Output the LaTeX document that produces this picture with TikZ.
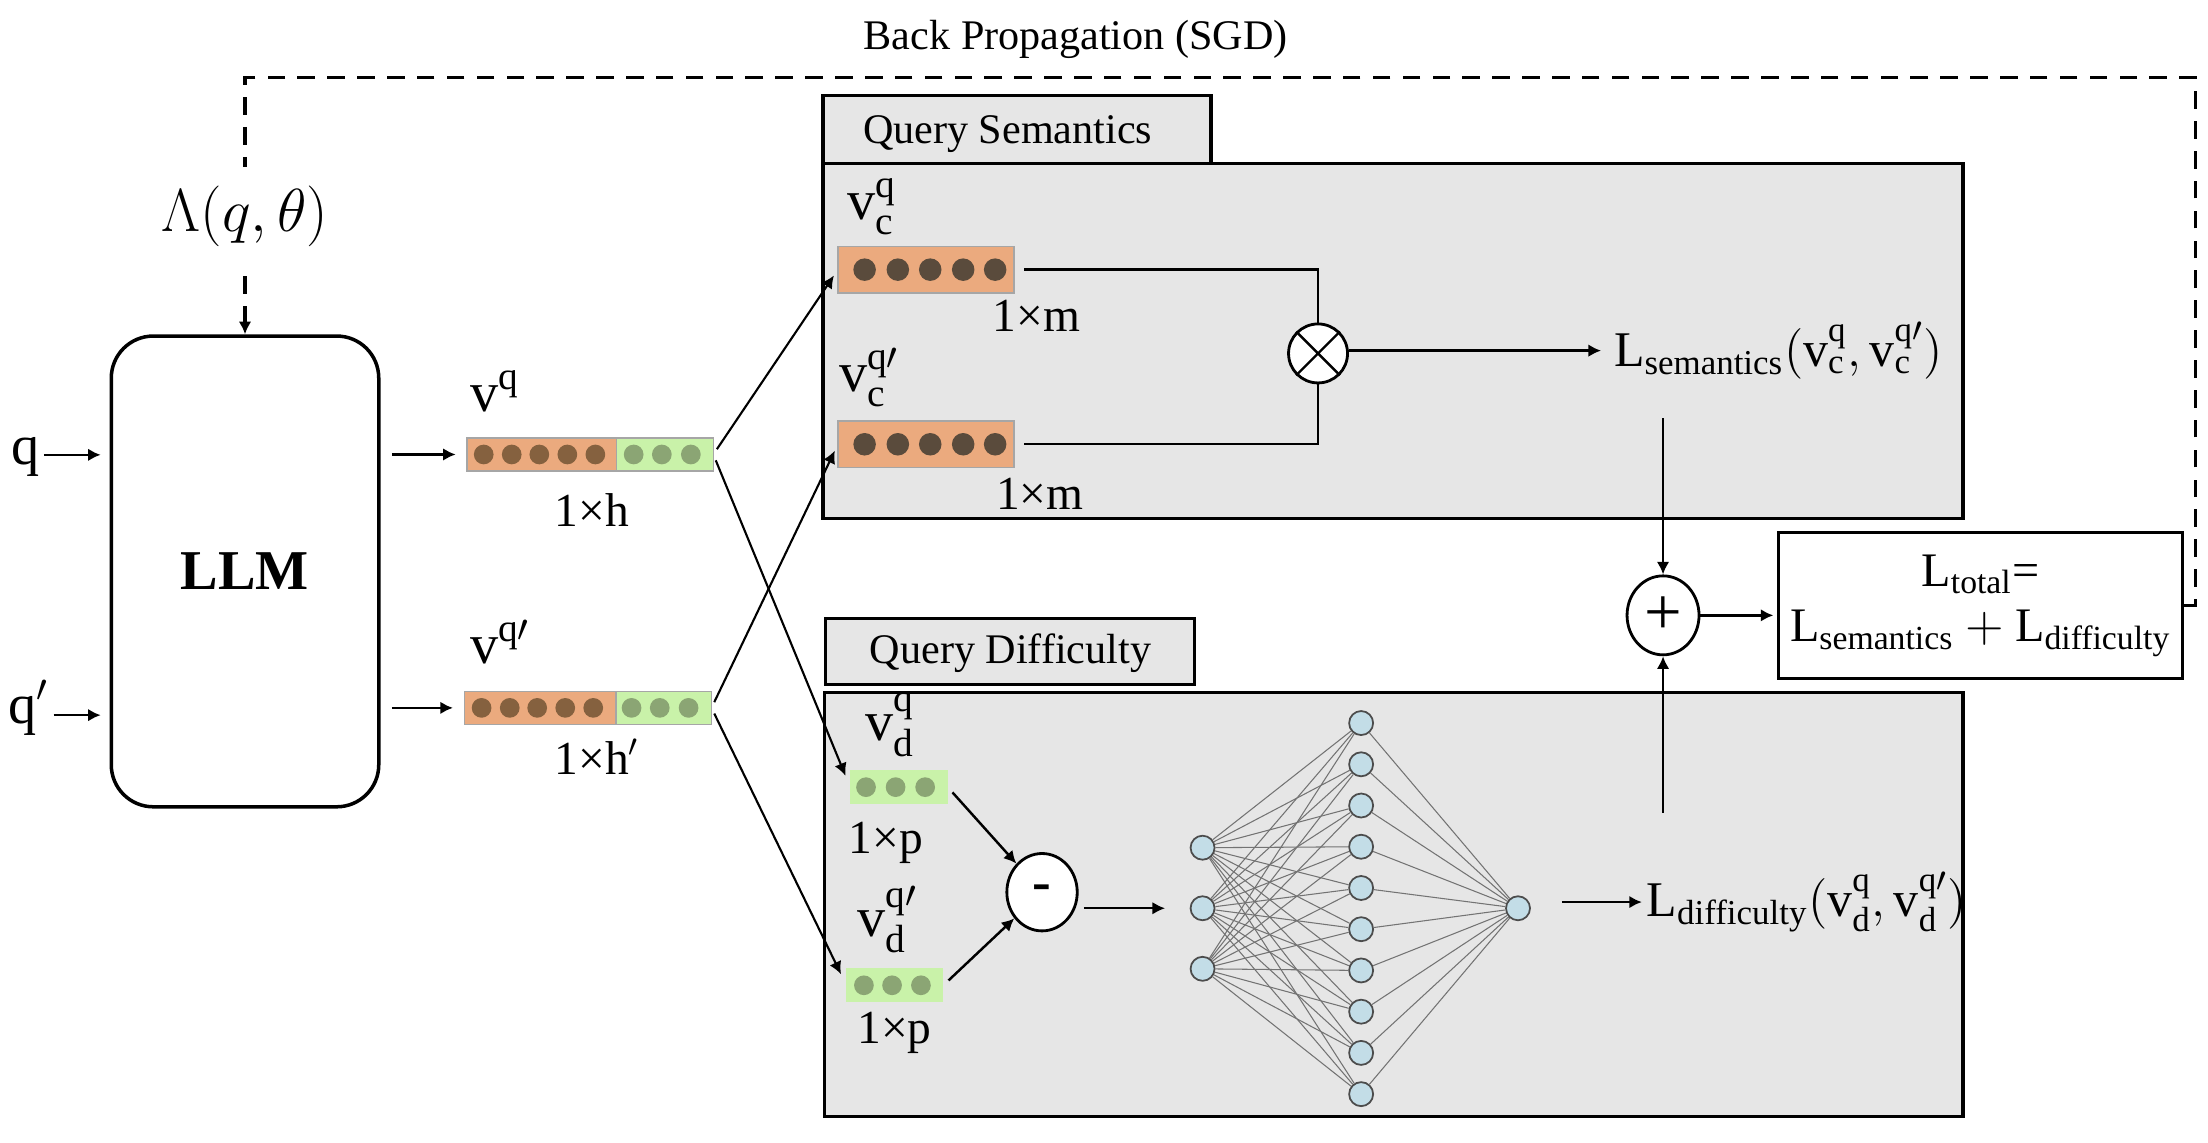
\documentclass[tikz,border=0pt]{standalone}
\usepackage{amsmath}
\usepackage{fontspec}
\setmainfont{Liberation Serif}
\usetikzlibrary{positioning,shapes.geometric,arrows.meta}
\definecolor{panelgray}{HTML}{E6E6E6}
\definecolor{barorange}{HTML}{EBAA7E}
\definecolor{bargreen}{HTML}{C9F2A9}
\definecolor{dotbrown}{HTML}{85613F}
\definecolor{dotdark}{HTML}{5A4B3C}
\definecolor{dotgreen}{HTML}{8BA574}
\definecolor{neuronblue}{HTML}{C3DDE7}
\begin{document}
\begin{tikzpicture}[x=0.01408cm,y=-0.01408cm,line width=0.7pt,>={Latex[length=3.6pt,width=3.6pt]},
	panel/.style={draw,line width=0.9pt,fill=panelgray},
	vecbar/.style={draw=black!35,line width=0.4pt,inner sep=0,outer sep=0,minimum height=0.331cm},
	lab/.style={inner sep=0,font=\fontsize{16}{19}\selectfont},
	dimlab/.style={inner sep=0,font=\fontsize{13.5}{16}\selectfont},
	heading/.style={inner sep=0,font=\fontsize{12}{14}\selectfont},
	loss/.style={font=\fontsize{14.2}{17}\selectfont},
	op/.style={draw,ellipse,line width=0.8pt,fill=white,inner sep=0},
	neuron/.style={circle,draw=black!70,line width=0.5pt,fill=neuronblue,minimum size=0.24cm,inner sep=0},
	nnedge/.style={draw=black!55,line width=0.3pt},
	backprop/.style={dash pattern=on 5pt off 3.5pt,line width=0.9pt}]
		\useasboundingbox (0,0) rectangle (1568,811);
		\node[heading,anchor=base] (bptext) at (764,35.5) {Back Propagation (SGD)};
		% panels
		\draw[panel] (584.5,68) rectangle (860,116);
		\draw[panel] (584.5,116) rectangle (1394,368.5);
		\draw[panel] (586,439) rectangle (848,486);
		\draw[panel] (585.5,491.5) rectangle (1394,793);
		\node[heading,anchor=base west] (semtitle) at (612,101.6) {Query Semantics};
		\node[heading,anchor=base] (diftitle) at (717.6,471) {Query Difficulty};
		% encoder
		\node[draw,rounded corners=0.42cm,line width=1pt,minimum width=2.675cm,minimum height=4.708cm,font=\fontsize{16}{19}\selectfont\bfseries] (llm) at (174,405.8) {LLM};
		\node[lab,inner sep=1pt,anchor=base west] (qin) at (4.5,330) {q};
		\node[lab,inner sep=1pt,anchor=base west] (qpin) at (2.6,513.6) {q$'$};
		\draw[->,shorten >=2.5pt] ([yshift=2.8pt]qin.base east) -- ([yshift=2.8pt]qin.base east -| llm.west);
		\draw[->,shorten >=2.5pt] ([yshift=2.3pt]qpin.base east) -- ([yshift=2.3pt]qpin.base east -| llm.west);
		% embeddings
		\node[vecbar,fill=barorange,minimum width=1.498cm] (vqo) at (384.8,322.75) {};
		\node[vecbar,fill=bargreen,minimum width=0.966cm,right=0pt of vqo] (vqg) {};
		\foreach \xx in {343.5,363.4,383,402.9,422.8} \fill[dotbrown] (\xx,322.75) circle (7);
		\foreach \xx in {450,470,490.6} \fill[dotgreen] (\xx,322.75) circle (7);
		\node[lab,anchor=base west] (vqlab) at (333,292.5) {$\text{v}^{\text{q}}$};
		\node[dimlab,anchor=base west] (vqdim) at (393,374) {1×h};
		\node[vecbar,fill=barorange,minimum width=1.516cm] (vqpo) at (383.5,502.7) {};
		\node[vecbar,fill=bargreen,minimum width=0.957cm,right=0pt of vqpo] (vqpg) {};
		\foreach \xx in {342,362,381.5,401.4,421.3} \fill[dotbrown] (\xx,502.7) circle (7);
		\foreach \xx in {448.5,468.5,489} \fill[dotgreen] (\xx,502.7) circle (7);
		\node[lab,anchor=base west] (vqplab) at (333,471) {$\text{v}^{\text{q}\prime}$};
		\node[dimlab,anchor=base west] (vqpdim) at (393,550) {1×h$'$};
		\draw[->,shorten <=3.2pt,shorten >=3.2pt] (llm.east |- vqo.west) -- (vqo.west);
		\draw[->,shorten <=3.2pt,shorten >=3.2pt] (llm.east |- vqpo.west) -- (vqpo.west);
		% query semantics
		\node[vecbar,fill=barorange,minimum width=1.76cm,minimum height=0.465cm] (vcq) at (657.5,191.5) {};
		\foreach \xx in {614,637.6,660.6,684,706.7} \fill[dotdark] (\xx,191.5) circle (8);
		\node[vecbar,fill=barorange,minimum width=1.76cm,minimum height=0.465cm] (vcp) at (657.5,315.5) {};
		\foreach \xx in {614,637.6,660.6,684,706.7} \fill[dotdark] (\xx,315.5) circle (8);
		\node[lab,anchor=base west] (vcqlab) at (601,156) {$\text{v}^{\text{q}}_{\text{c}}$};
		\node[lab,anchor=base west] (vcplab) at (595,278) {$\text{v}^{\text{q}\prime}_{\text{c}}$};
		\node[dimlab,anchor=base west] (vcqdim) at (704,235.6) {1×m};
		\node[dimlab,anchor=base west] (vcpdim) at (706.6,362) {1×m};
		\node[op,minimum width=0.59cm,minimum height=0.59cm] (mul) at (936,251) {};
		\draw (mul.45) -- (mul.225) (mul.135) -- (mul.315);
		\draw[shorten <=3pt] (vcq.east) -| (mul.north);
		\draw[shorten <=3pt] (vcp.east) -| (mul.south);
		\node[loss,anchor=west] (lsem) at (1137,249) {$\text{L}_{\text{semantics}}(\text{v}^{\text{q}}_{\text{c}},\text{v}^{\text{q}\prime}_{\text{c}})$};
		\draw[->] (mul.east |- lsem.west) -- (lsem.west);
		% query difficulty
		\node[vecbar,draw=none,fill=bargreen,minimum width=0.976cm,minimum height=0.338cm] (vdq) at (638.4,559) {};
		\foreach \xx in {615,636,657} \fill[dotgreen] (\xx,559) circle (7);
		\node[vecbar,draw=none,fill=bargreen,minimum width=0.97cm,minimum height=0.34cm] (vdp) at (635.5,699.7) {};
		\foreach \xx in {613.5,633.5,654} \fill[dotgreen] (\xx,699.7) circle (7);
		\node[lab,anchor=base west] (vdqlab) at (613.6,526) {$\text{v}^{\text{q}}_{\text{d}}$};
		\node[lab,anchor=base west] (vdplab) at (608,665) {$\text{v}^{\text{q}\prime}_{\text{d}}$};
		\node[dimlab,anchor=base west] (vdqdim) at (602,606) {1×p};
		\node[dimlab,anchor=base west] (vdpdim) at (608,741) {1×p};
		\node[op,minimum width=0.704cm,minimum height=0.774cm,font=\fontsize{16}{19}\selectfont\bfseries] (minus) at (740,633.6) {-};
		\draw[->,shorten <=2pt] (vdq.east) -- (minus);
		\draw[->,shorten <=2pt] (vdp.east) -- (minus);
		% ranking network
		\foreach \i in {1,2,3} \node[neuron] (in\i) at (854,{559+43*\i}) {};
		\foreach \j in {1,...,10} \node[neuron] (hid\j) at (966.6,{484.2+29.28*\j}) {};
		\node[neuron] (out) at (1078,645) {};
		\foreach \i in {1,2,3} \foreach \j in {1,...,10} \draw[nnedge] (in\i) -- (hid\j);
		\foreach \j in {1,...,10} \draw[nnedge] (hid\j) -- (out);
		\draw[->,shorten <=1.5pt,shorten >=7pt] (minus.east |- in2) -- (in2.west);
		\node[loss,anchor=west,inner sep=1pt] (ldif) at (1166,640.6) {$\text{L}_{\text{difficulty}}(\text{v}^{\text{q}}_{\text{d}},\text{v}^{\text{q}\prime}_{\text{d}})$};
		\draw[->,shorten <=8.8pt] (ldif.west -| out.east) -- (ldif.west);
		% split of the embeddings
		\draw[->,line width=0.6pt,shorten <=1.8pt,shorten >=2pt] (vqg.east) -- (vcq.west);
		\draw[->,line width=0.6pt,shorten <=1.8pt,shorten >=3.5pt] (vqg.east) -- (vdq.west);
		\draw[->,line width=0.6pt,shorten <=1.8pt,shorten >=2pt] (vqpg.east) -- (vcp.west);
		\draw[->,line width=0.6pt,shorten <=1.8pt,shorten >=3.5pt] (vqpg.east) -- (vdp.west);
		% total loss
		\coordinate (semout) at (1181,297);
		\coordinate (difout) at (1181,577);
		\node[op,minimum width=0.72cm,minimum height=0.79cm,font=\fontsize{19}{22}\selectfont] (plus) at (1181,437) {+};
		\draw[->] (semout) -- (plus.north);
		\draw[->] (difout) -- (plus.south);
		\node[draw,line width=0.8pt,minimum width=3.9cm,minimum height=1.464cm,align=center,font=\fontsize{13.7}{15.8}\selectfont] (ltot) at (1406.5,430) {$\text{L}_{\text{total}}$=\\$\text{L}_{\text{semantics}}+\text{L}_{\text{difficulty}}$};
		\draw[->,shorten >=1pt] (plus.east) -- (plus.east -| ltot.west);
		% back propagation
		\coordinate (bpr) at (1559,55);
		\coordinate (bpl) at (174,55);
		\draw[backprop,->] (ltot.east) -| (bpr) -- (bpl) -- node[pos=0.54,fill=white,inner sep=5.5pt,font=\fontsize{16}{19}\selectfont] (lam) {$\Lambda(q,\theta)$} (llm.north);
	\end{tikzpicture}
\end{document}
